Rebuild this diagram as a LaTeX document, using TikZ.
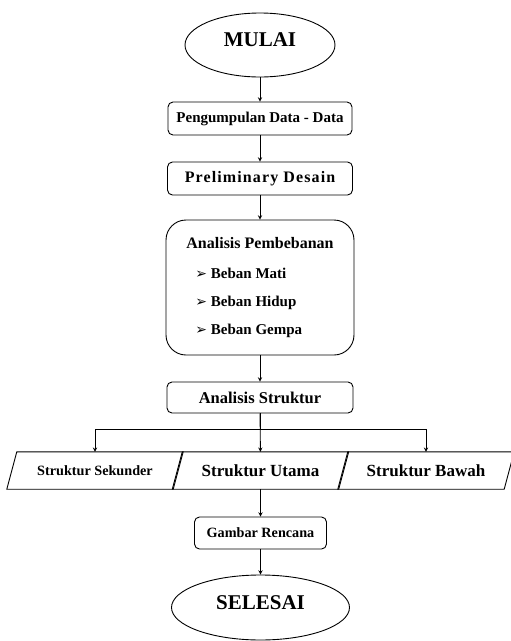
\documentclass[tikz,border=0pt]{standalone}
\usepackage{fontspec}
\setmainfont{Liberation Serif}
\newfontfamily\symfont{DejaVu Sans}
\usetikzlibrary{shapes.geometric}
\newcommand{\panah}{{\symfont\fontsize{14}{14}\selectfont ➢}}
\tikzset{
  proses/.style={draw,line width=0.9pt,rounded corners=5pt,inner sep=0pt,font=\bfseries\fontsize{15}{18}\selectfont},
  terminal/.style={draw,ellipse,line width=0.9pt,inner sep=0pt,font=\bfseries\fontsize{21}{24}\selectfont},
  hasil/.style={minimum width=166pt,minimum height=37pt,inner sep=0pt,font=\bfseries\fontsize{17}{20}\selectfont},
  alur/.style={->,line width=0.9pt}
}
\begin{document}
\begin{tikzpicture}[x=1pt,y=-1pt,>=stealth]
        \useasboundingbox (0,0) rectangle (511,641);
        \node[terminal,minimum width=150pt,minimum height=64pt] (mulai) at (260,45) {\raisebox{5pt}[\height][\depth]{MULAI}};
        \node[proses,minimum width=184pt,minimum height=33pt] (kumpul) at (260,118.5) {Pengumpulan Data - Data};
        \node[proses,minimum width=185pt,minimum height=33pt] (prelim) at (260,178.5) {\fontsize{16}{18}\selectfont\addfontfeature{LetterSpace=7}Preliminary Desain};
        \node[proses,rounded corners=20pt,minimum width=188pt,minimum height=135pt] (beban) at (260,287.5) {%
          \begin{tabular}{@{}l@{}}
          \fontsize{16}{18}\selectfont Analisis Pembebanan\\[12pt]
          \hspace{9pt}\panah\ Beban Mati\\[10pt]
          \hspace{9pt}\panah\ Beban Hidup\\[10pt]
          \hspace{9pt}\panah\ Beban Gempa
          \end{tabular}};
        \node[proses,minimum width=186pt,minimum height=31pt,font=\bfseries\fontsize{16.5}{18}\selectfont] (analisis) at (260,397.5) {Analisis Struktur};
        \node[hasil,font=\bfseries\fontsize{14.2}{18}\selectfont] (sekunder) at (95,470.5) {Struktur Sekunder};
        \node[hasil] (utama) at (260.5,470.5) {Struktur Utama};
        \node[hasil] (bawah) at (426,470.5) {Struktur Bawah};
        \foreach \n in {sekunder,utama,bawah}
          \draw[line width=0.9pt] ([xshift=-5pt]\n.south west) -- ([xshift=5pt]\n.north west) -- ([xshift=5pt]\n.north east) -- ([xshift=-5pt]\n.south east) -- cycle;
        \node[proses,minimum width=132pt,minimum height=32pt,font=\bfseries\fontsize{14.2}{18}\selectfont] (gambar) at (260.5,533) {Gambar Rencana};
        \node[terminal,minimum width=178pt,minimum height=65pt] (selesai) at (260.5,607.5) {\raisebox{5pt}[\height][\depth]{SELESAI}};

        \draw[alur] (mulai) -- (kumpul);
        \draw[alur] (kumpul) -- (prelim);
        \draw[alur] (prelim) -- (beban);
        \draw[alur] (beban) -- (analisis);
        \draw[alur] (analisis) -- (utama);
        \draw[alur] (analisis.south) -- ++(0,16) -| (sekunder.north);
        \draw[alur] (analisis.south) -- ++(0,16) -| (bawah.north);
        \draw[alur] (utama) -- (gambar);
        \draw[alur] (gambar) -- (selesai);
\end{tikzpicture}
\end{document}
